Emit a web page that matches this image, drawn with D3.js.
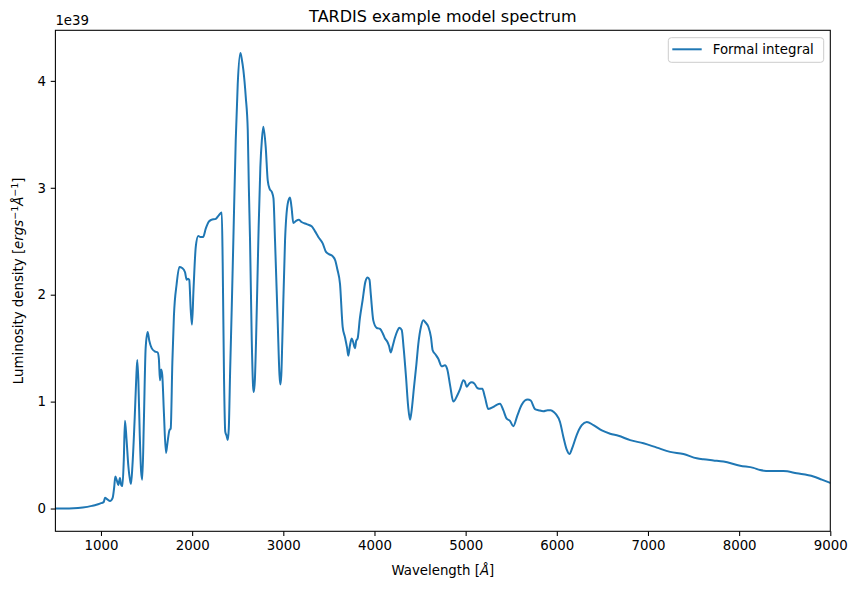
<!DOCTYPE html>
<html>
<head>
<meta charset="utf-8">
<script src="https://cdn.jsdelivr.net/npm/d3@7"></script>
<style>
  html, body { margin: 0; padding: 0; background: #fff; }
  svg { display: block; font-family: "DejaVu Sans", sans-serif; }
</style>
</head>
<body>
<svg id="chart" width="858" height="590"></svg>
<script>
// Wavelength in Angstrom
const wavelength = [500,600,700,800,900,950,1000,1030,1044,1070,1099,1128,1145,1157,1175,1190,1208,1222,1235,1250,1263,1280,1300,1318,1329,1345,1370,1386,1398,1410,1425,1440,1453,1470,1490,1512,1530,1556,1590,1622,1635,1647,1660,1672,1690,1713,1730,1750,1765,1783,1800,1830,1860,1890,1922,1940,1955,1968,1985,1998,2015,2040,2067,2090,2120,2150,2180,2210,2260,2290,2325,2335,2350,2363,2378,2390,2402,2416,2435,2452,2478,2500,2529,2545,2562,2588,2610,2622,2635,2654,2668,2676,2688,2701,2726,2748,2765,2781,2807,2829,2850,2875,2892,2909,2939,2958,2967,2978,2989,3019,3048,3073,3090,3110,3140,3172,3200,3256,3311,3350,3384,3432,3468,3500,3541,3570,3592,3622,3651,3677,3700,3713,3730,3750,3765,3786,3800,3815,3840,3870,3900,3925,3945,3960,3987,4024,4061,4090,4115,4141,4160,4178,4200,4225,4250,4273,4299,4320,4346,4370,4390,4405,4434,4460,4481,4510,4536,4560,4591,4620,4638,4670,4700,4737,4773,4799,4830,4865,4909,4940,4975,4990,5011,5040,5066,5095,5125,5150,5183,5212,5249,5304,5340,5377,5413,5450,5486,5523,5567,5615,5650,5681,5714,5761,5800,5852,5900,5933,5970,5992,6035,6072,6109,6138,6175,6219,6274,6329,6402,6494,6585,6676,6805,6951,7097,7243,7389,7535,7608,7718,7828,8011,8157,8230,8340,8486,8632,8815,8907,9000];
// Luminosity density in units of 1e39 erg/s/A
const luminosity = [0,0,0.002,0.01,0.025,0.035,0.05,0.06,0.10,0.085,0.07,0.10,0.20,0.30,0.26,0.22,0.286,0.22,0.21,0.45,0.82,0.65,0.40,0.27,0.23,0.40,0.85,1.20,1.39,1.20,0.70,0.35,0.27,0.80,1.50,1.65,1.57,1.50,1.47,1.46,1.40,1.20,1.30,1.25,0.90,0.52,0.62,0.73,0.75,1.37,1.80,2.10,2.26,2.25,2.21,2.14,2.15,2.14,1.85,1.72,2.05,2.45,2.55,2.54,2.54,2.62,2.68,2.70,2.71,2.74,2.77,2.30,1.20,0.72,0.68,0.64,0.75,1.26,1.90,2.51,3.44,3.97,4.26,4.20,4.10,3.85,3.54,3.00,2.51,1.57,1.15,1.09,1.20,1.57,2.51,3.19,3.45,3.57,3.38,3.07,2.99,2.96,2.90,2.51,1.73,1.25,1.16,1.25,1.57,2.51,2.85,2.91,2.82,2.67,2.69,2.70,2.68,2.66,2.64,2.59,2.54,2.48,2.40,2.38,2.36,2.32,2.24,2.10,1.70,1.60,1.50,1.43,1.52,1.59,1.56,1.50,1.57,1.59,1.78,1.95,2.12,2.16,2.14,2.00,1.76,1.69,1.68,1.64,1.59,1.56,1.52,1.46,1.52,1.60,1.66,1.69,1.67,1.50,1.23,0.95,0.83,0.90,1.14,1.35,1.54,1.70,1.76,1.74,1.70,1.60,1.48,1.44,1.40,1.33,1.34,1.30,1.15,1.00,1.06,1.12,1.20,1.19,1.14,1.17,1.18,1.17,1.13,1.12,1.12,1.04,0.93,0.95,0.97,0.98,0.92,0.84,0.82,0.77,0.87,0.97,1.01,1.02,1.01,0.93,0.92,0.91,0.92,0.92,0.90,0.88,0.81,0.67,0.55,0.51,0.58,0.69,0.78,0.81,0.78,0.73,0.70,0.68,0.64,0.61,0.57,0.53,0.51,0.47,0.46,0.45,0.44,0.40,0.38,0.36,0.35,0.35,0.33,0.30,0.27,0.24];
const xTicks = [1000,2000,3000,4000,5000,6000,7000,8000,9000];
const yTicks = [0,1,2,3,4];
const seriesName = "Formal integral";
const titleText = "TARDIS example model spectrum";

const svg = d3.select("#chart");
const W = 858, H = 590;
const m = {left: 55.4, right: 858 - 830.3, top: 30.3, bottom: 590 - 531.3};
const iw = W - m.left - m.right, ih = H - m.top - m.bottom;
const fs = 13.33;

const ymax = d3.max(luminosity), ymin = d3.min(luminosity);
const pad = (ymax - ymin) * 0.05;
const x = d3.scaleLinear().domain([500, 9000]).range([m.left, m.left + iw]);
const y = d3.scaleLinear().domain([ymin - pad, ymax + pad]).range([m.top + ih, m.top]);

svg.append("rect").attr("width", W).attr("height", H).attr("fill", "#fff");

const data = wavelength.map((w, i) => [w, luminosity[i]]);
const clip = svg.append("clipPath").attr("id", "clip").append("rect")
  .attr("x", m.left).attr("y", m.top).attr("width", iw).attr("height", ih);

svg.append("path")
  .datum(data)
  .attr("clip-path", "url(#clip)")
  .attr("fill", "none")
  .attr("stroke", "#1f77b4")
  .attr("stroke-width", 2)
  .attr("stroke-linejoin", "round")
  .attr("stroke-linecap", "square")
  .attr("d", d3.line().x(d => x(d[0])).y(d => y(d[1])).curve(d3.curveMonotoneX));

// axes
const xAxis = d3.axisBottom(x).tickValues(xTicks).tickSize(4.67).tickPadding(4.7).tickFormat(d3.format("d"));
const yAxis = d3.axisLeft(y).tickValues(yTicks).tickSize(4.67).tickPadding(4.7).tickFormat(d3.format("d"));
const gx = svg.append("g").attr("transform", `translate(0,${m.top + ih})`).call(xAxis);
const gy = svg.append("g").attr("transform", `translate(${m.left},0)`).call(yAxis);
[gx, gy].forEach(g => {
  g.select(".domain").remove();
  g.selectAll("line").attr("stroke", "#000").attr("stroke-width", 1.07);
  g.selectAll("text").attr("fill", "#000").style("font-size", fs + "px").style("font-family", "DejaVu Sans");
});

// spines
svg.append("rect").attr("x", m.left).attr("y", m.top).attr("width", iw).attr("height", ih)
  .attr("fill", "none").attr("stroke", "#000").attr("stroke-width", 1.07);

// title
svg.append("text").attr("x", m.left + iw / 2).attr("y", 22)
  .attr("text-anchor", "middle").style("font-size", "16px").attr("fill", "#000").text(titleText);

// offset text
svg.append("text").attr("x", m.left).attr("y", 25).style("font-size", fs + "px").attr("fill", "#000").text("1e39");

// x label
const xl = svg.append("text").attr("x", m.left + iw / 2).attr("y", 575)
  .attr("text-anchor", "middle").style("font-size", fs + "px").attr("fill", "#000");
xl.append("tspan").text("Wavelength [");
xl.append("tspan").style("font-style", "italic").text("Å");
xl.append("tspan").text("]");

// y label
const yl = svg.append("text").attr("transform", `translate(23,${m.top + ih / 2}) rotate(-90)`)
  .attr("text-anchor", "middle").style("font-size", fs + "px").attr("fill", "#000");
yl.append("tspan").text("Luminosity density [");
yl.append("tspan").style("font-style", "italic").text("ergs");
yl.append("tspan").attr("dy", -5).style("font-size", "9.5px").text("−1");
yl.append("tspan").attr("dy", 5).style("font-style", "italic").text("Å");
yl.append("tspan").attr("dy", -5).style("font-size", "9.5px").text("−1");
yl.append("tspan").attr("dy", 5).text("]");

// legend
const lg = svg.append("g");
lg.append("rect").attr("x", 668.3).attr("y", 37.7).attr("width", 155.4).attr("height", 24.6)
  .attr("rx", 3).attr("fill", "#fff").attr("fill-opacity", 0.8).attr("stroke", "#cccccc").attr("stroke-width", 1);
lg.append("line").attr("x1", 672.3).attr("x2", 701.7).attr("y1", 49.3).attr("y2", 49.3)
  .attr("stroke", "#1f77b4").attr("stroke-width", 2);
lg.append("text").attr("x", 712.7).attr("y", 49.3).attr("dy", "0.35em")
  .style("font-size", fs + "px").attr("fill", "#000").text(seriesName);
</script>
</body>
</html>
